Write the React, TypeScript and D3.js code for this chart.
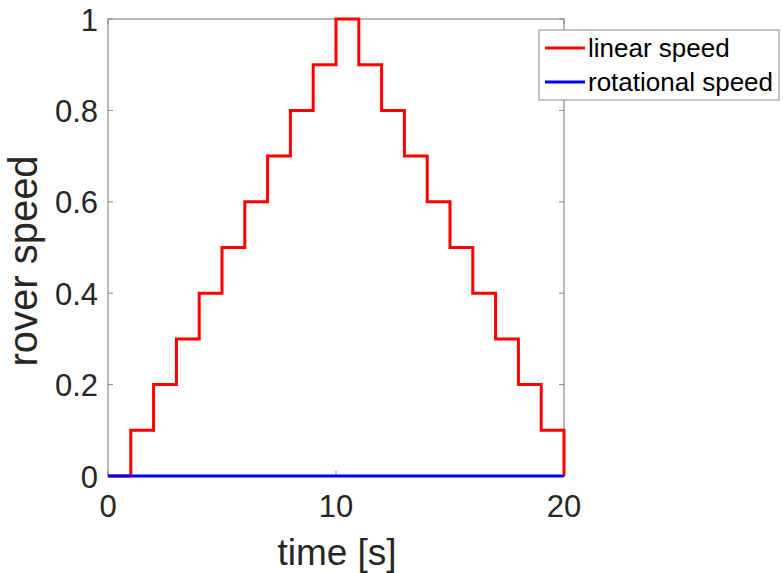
import * as d3 from "d3";

// speed steps, one per second (value held until next second)
const times = [0, 1, 2, 3, 4, 5, 6, 7, 8, 9, 10, 11, 12, 13, 14, 15, 16, 17, 18, 19, 20];
const linearSpeed = [0, 0.1, 0.2, 0.3, 0.4, 0.5, 0.6, 0.7, 0.8, 0.9, 1.0, 0.9, 0.8, 0.7, 0.6, 0.5, 0.4, 0.3, 0.2, 0.1, 0];
const rotationalSpeed = [0, 0, 0, 0, 0, 0, 0, 0, 0, 0, 0, 0, 0, 0, 0, 0, 0, 0, 0, 0, 0];
const xTicks = [0, 10, 20];
const yTicks = [0, 0.2, 0.4, 0.6, 0.8, 1];
const seriesNames = ["linear speed", "rotational speed"];
const seriesColors = ["#ff0000", "#0000ff"];

const W = 783;
const H = 573;
const left = 108, right = 564, top = 19, bottom = 476;
const font = "'Liberation Sans', Arial, sans-serif";
const textColor = "#262626";
const axisColor = "#8c8c8c";

export default function App() {
  const x = d3.scaleLinear().domain([0, 20]).range([left, right]);
  const y = d3.scaleLinear().domain([0, 1]).range([bottom, top]);

  const stepLine = d3
    .line<number>()
    .x((_, i) => x(times[i]))
    .y((v) => y(v))
    .curve(d3.curveStepAfter);

  const tickLen = 5;

  return (
    <svg width={W} height={H} style={{ position: "absolute", left: 0, top: 0, background: "#fff" }}>
      <rect x={0} y={0} width={W} height={H} fill="#fff" />
      {/* ticks */}
      {xTicks.map((t) => (
        <g key={"xt" + t}>
          <line x1={x(t)} x2={x(t)} y1={bottom} y2={bottom - tickLen} stroke={axisColor} />
          <line x1={x(t)} x2={x(t)} y1={top} y2={top + tickLen} stroke={axisColor} />
          <text x={x(t)} y={bottom + 41} textAnchor="middle" fontSize={31} fontFamily={font} fill={textColor}>
            {t}
          </text>
        </g>
      ))}
      {yTicks.map((t) => (
        <g key={"yt" + t}>
          <line x1={left} x2={left + tickLen} y1={y(t)} y2={y(t)} stroke={axisColor} />
          <line x1={right} x2={right - tickLen} y1={y(t)} y2={y(t)} stroke={axisColor} />
          <text x={left - 10} y={y(t) + 11.5} textAnchor="end" fontSize={31} fontFamily={font} fill={textColor}>
            {t}
          </text>
        </g>
      ))}
      <rect x={left} y={top} width={right - left} height={bottom - top} fill="none" stroke={axisColor} strokeWidth={1.2} />
      {/* series */}
      <path d={stepLine(linearSpeed) ?? ""} fill="none" stroke={seriesColors[0]} strokeWidth={3} />
      <path d={stepLine(rotationalSpeed) ?? ""} fill="none" stroke={seriesColors[1]} strokeWidth={3} />
      {/* axis labels */}
      <text x={(left + right) / 2 + 1} y={565} textAnchor="middle" fontSize={37} fontFamily={font} fill={textColor}>
        time [s]
      </text>
      <text
        transform={`translate(37, 261) rotate(-90)`}
        textAnchor="middle"
        fontSize={40}
        fontFamily={font}
        fill={textColor}
      >
        rover speed
      </text>
      {/* legend */}
      <g>
        <rect x={539} y={30} width={240} height={70} fill="#fff" stroke={axisColor} strokeWidth={1} />
        {seriesNames.map((name, i) => (
          <g key={name}>
            <line x1={545} x2={585} y1={48 + i * 34} y2={48 + i * 34} stroke={seriesColors[i]} strokeWidth={3} />
            <text x={588} y={57 + i * 34} fontSize={26} fontFamily={font} fill="#000">
              {name}
            </text>
          </g>
        ))}
      </g>
    </svg>
  );
}
